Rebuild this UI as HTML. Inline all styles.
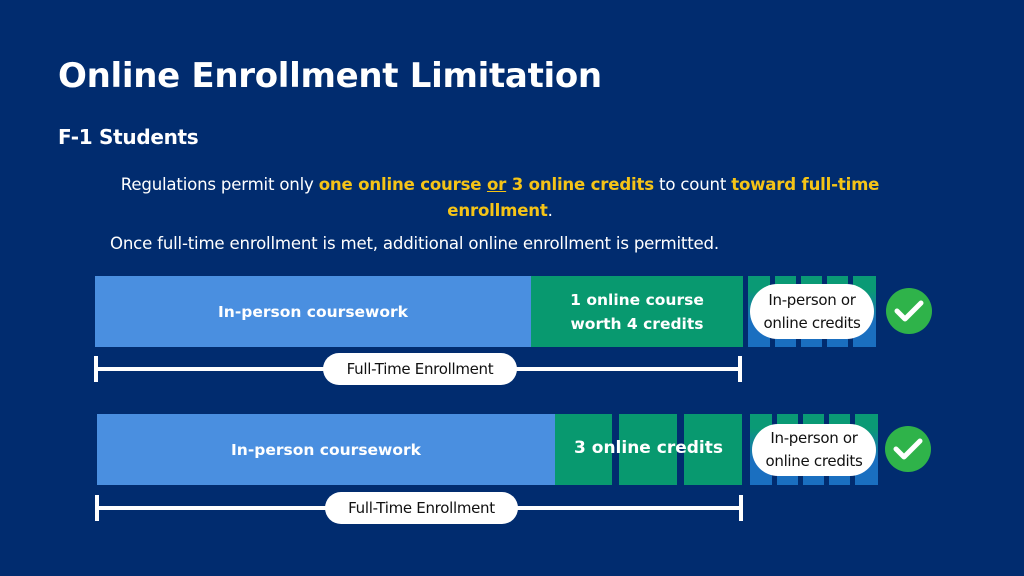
<!DOCTYPE html>
<html><head><meta charset="utf-8"><style>
*{margin:0;padding:0;box-sizing:border-box}
body{width:1024px;height:576px;background:#012c6f;position:relative;overflow:hidden;font-family:"DejaVu Sans","Liberation Sans",sans-serif;color:#fff}
.a{position:absolute}
.t{left:58px;top:56px;font-size:34px;font-weight:bold;letter-spacing:-0.3px}
.s{left:58px;top:125px;font-size:20px;font-weight:bold;letter-spacing:-0.3px}
.p{font-size:16.6px;letter-spacing:-0.2px}
.y{color:#f5c417;font-weight:bold}
.blue{background:#4a8fe0}
.green{background:#08996f}
.lbl{display:flex;align-items:center;justify-content:center;text-align:center;font-weight:bold;font-size:15.5px;color:#fff;line-height:24px}
.st{background:linear-gradient(#0a9a75 0%,#0a9a75 20%,#1a6fc0 65%,#1a6fc0 100%)}
.pill{background:#fff;color:#111;border-radius:28px;display:flex;align-items:center;justify-content:center;text-align:center;font-size:15px;line-height:23px;letter-spacing:-0.3px}
.chk{background:#2fb34a;border-radius:50%;display:flex;align-items:center;justify-content:center}
.ln{background:#fff;height:4px}
.tk{background:#fff;width:4px;height:26px}
</style></head><body>
<div class="a t">Online Enrollment Limitation</div>
<div class="a s">F-1 Students</div>
<div class="a p" style="left:100px;top:172px;width:800px;text-align:center;line-height:26px">Regulations permit only <span class="y">one online course <u>or</u> 3 online credits</span> to count <span class="y">toward full-time enrollment</span>.</div>
<div class="a p" style="left:110px;top:234px">Once full-time enrollment is met, additional online enrollment is permitted.</div>

<div class="a blue lbl" style="left:95px;top:276px;width:436px;height:71px">In-person coursework</div>
<div class="a green lbl" style="left:531px;top:276px;width:212px;height:71px">1 online course<br>worth 4 credits</div>
<div class="a st" style="left:748px;top:276px;width:22px;height:71px"></div>
<div class="a st" style="left:775px;top:276px;width:21px;height:71px"></div>
<div class="a st" style="left:801px;top:276px;width:21px;height:71px"></div>
<div class="a st" style="left:827px;top:276px;width:21px;height:71px"></div>
<div class="a st" style="left:853px;top:276px;width:23px;height:71px"></div>
<div class="a pill" style="left:750px;top:284px;width:124px;height:55px">In-person or<br>online credits</div>
<div class="a chk" style="left:886px;top:288px;width:46px;height:46px"><svg width="30" height="24" viewBox="0 0 30 24"><path d="M3 12 L11 20 L27 4" stroke="#fff" stroke-width="5" fill="none" stroke-linecap="round" stroke-linejoin="round"/></svg></div>
<div class="a ln" style="left:96px;top:367px;width:645px"></div>
<div class="a tk" style="left:94px;top:356px"></div>
<div class="a tk" style="left:738px;top:356px"></div>
<div class="a pill" style="left:323px;top:353px;width:194px;height:32px;font-size:15px">Full-Time Enrollment</div>

<div class="a blue lbl" style="left:97px;top:414px;width:458px;height:71px">In-person coursework</div>
<div class="a green" style="left:555px;top:414px;width:57px;height:71px"></div>
<div class="a green" style="left:619px;top:414px;width:58px;height:71px"></div>
<div class="a green" style="left:684px;top:414px;width:58px;height:71px"></div>
<div class="a lbl" style="left:555px;top:412px;width:187px;height:71px;font-size:17px">3 online credits</div>
<div class="a st" style="left:750px;top:414px;width:22px;height:71px"></div>
<div class="a st" style="left:777px;top:414px;width:21px;height:71px"></div>
<div class="a st" style="left:803px;top:414px;width:21px;height:71px"></div>
<div class="a st" style="left:829px;top:414px;width:21px;height:71px"></div>
<div class="a st" style="left:855px;top:414px;width:23px;height:71px"></div>
<div class="a pill" style="left:752px;top:424px;width:124px;height:52px">In-person or<br>online credits</div>
<div class="a chk" style="left:885px;top:426px;width:46px;height:46px"><svg width="30" height="24" viewBox="0 0 30 24"><path d="M3 12 L11 20 L27 4" stroke="#fff" stroke-width="5" fill="none" stroke-linecap="round" stroke-linejoin="round"/></svg></div>
<div class="a ln" style="left:97px;top:506px;width:645px"></div>
<div class="a tk" style="left:95px;top:495px"></div>
<div class="a tk" style="left:739px;top:495px"></div>
<div class="a pill" style="left:325px;top:492px;width:193px;height:32px;font-size:15px">Full-Time Enrollment</div>
</body></html>
